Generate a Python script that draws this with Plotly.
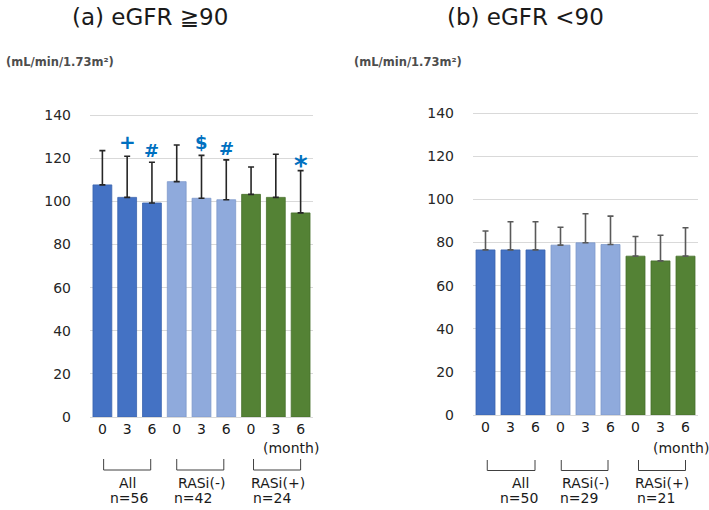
import plotly.graph_objects as go

# ---------------- data ----------------
months = ["0", "3", "6", "0", "3", "6", "0", "3", "6"]
groups = ["All", "RASi(-)", "RASi(+)"]
group_colors = ["#4472C4", "#8FAADC", "#548235"]
group_edges = ["#3A63AD", "#7E99CB", "#47702C"]

a_mean = [107.7, 101.9, 99.3, 109.2, 101.5, 100.8, 103.3, 101.9, 94.7]
a_sd = [15.9, 19.1, 18.9, 17.0, 19.9, 18.5, 12.7, 20.0, 19.6]
a_n = [56, 42, 24]
a_marks = ["", "+", "#", "", "$", "#", "", "", "*"]

b_mean = [76.6, 76.6, 76.6, 78.8, 79.9, 79.1, 73.7, 71.5, 73.7]
b_sd = [8.8, 13.1, 13.1, 8.3, 13.5, 13.2, 9.1, 11.9, 13.2]
b_n = [50, 29, 21]

titles = ["(a) eGFR ≧90", "(b) eGFR <90"]
unit = "(mL/min/1.73m²)"
y_ticks = [0, 20, 40, 60, 80, 100, 120, 140]

# ---------------- layout constants ----------------
W, H = 709, 510
FONT = "DejaVu Sans"
px_x = lambda p: p / W
px_y = lambda p: 1 - p / H
mark_size = {"+": 20, "#": 18, "$": 18, "*": 26}
mark_shift = {"+": 0, "#": -1, "$": 0, "*": -12}

panels = [
    dict(mean=a_mean, sd=a_sd, n=a_n, marks=a_marks, xa="x", ya="y",
         xdom=[px_x(90), px_x(313)], ydom=[px_y(417), px_y(104.5)],
         err_color="#262626",
         title_x=px_x(150), unit_x=px_x(4),
         lab_x=[1.02, 4.04, 7.09], n_x=[1.11, 3.65, 6.87], month_x=7.6,
         br=[(0.05, 1.95), (3.0, 4.9), (6.1, 8.0)],
         br_y=(px_y(459), px_y(470))),
    dict(mean=b_mean, sd=b_sd, n=b_n, marks=None, xa="x2", ya="y2",
         xdom=[px_x(473), px_x(698)], ydom=[px_y(415), px_y(102.5)],
         err_color="#595959",
         title_x=px_x(525), unit_x=px_x(352),
         lab_x=[1.4, 4.0, 7.05], n_x=[1.33, 3.73, 6.8], month_x=7.8,
         br=[(0.07, 1.98), (3.03, 4.9), (6.12, 8.0)],
         br_y=(px_y(460), px_y(470.5))),
]

fig = go.Figure()
annotations = []
shapes = []
txt = dict(family=FONT, size=14, color="#1a1a1a")

for p in panels:
    for g in range(3):
        idx = list(range(3 * g, 3 * g + 3))
        fig.add_trace(go.Bar(
            x=idx,
            y=[p["mean"][i] for i in idx],
            width=0.76,
            marker=dict(color=group_colors[g],
                        line=dict(color=group_edges[g], width=0.8)),
            error_y=dict(type="data", array=[p["sd"][i] for i in idx],
                         symmetric=False, arrayminus=[0, 0, 0],
                         color=p["err_color"], thickness=1.6, width=3),
            xaxis=p["xa"], yaxis=p["ya"], showlegend=False,
            hoverinfo="skip",
        ))
        x0, x1 = p["br"][g]
        yt, yb = p["br_y"]
        shapes.append(dict(type="path", xref=p["xa"], yref="paper",
                           path=f"M {x0},{yt} L {x0},{yb} L {x1},{yb} L {x1},{yt}",
                           line=dict(color="#404040", width=1)))
        annotations.append(dict(text=groups[g], x=p["lab_x"][g], xref=p["xa"],
                                y=px_y(482.5), yref="paper", yanchor="middle",
                                showarrow=False, font=txt))
        annotations.append(dict(text=f"n={p['n'][g]}", x=p["n_x"][g], xref=p["xa"],
                                y=px_y(498), yref="paper", yanchor="middle",
                                showarrow=False, font=txt))
    annotations.append(dict(text="(month)", x=p["month_x"], xref=p["xa"],
                            y=px_y(447.5), yref="paper", yanchor="middle",
                            showarrow=False, font=txt))
    if p["marks"]:
        for i, m in enumerate(p["marks"]):
            if m:
                annotations.append(dict(text=f"<b>{m}</b>", x=i, xref=p["xa"],
                                        y=p["mean"][i] + p["sd"][i], yref=p["ya"],
                                        yanchor="bottom", yshift=mark_shift[m],
                                        showarrow=False,
                                        font=dict(family=FONT, size=mark_size[m],
                                                  color="#0070C0")))

for k, p in enumerate(panels):
    annotations.append(dict(text=titles[k], x=p["title_x"], y=px_y(17), xref="paper",
                            yref="paper", showarrow=False, xanchor="center",
                            yanchor="middle",
                            font=dict(family=FONT, size=23, color="#1a1a1a")))
    annotations.append(dict(text=f"<b>{unit}</b>", x=p["unit_x"], y=px_y(61.5),
                            xref="paper", yref="paper", showarrow=False,
                            xanchor="left", yanchor="middle",
                            font=dict(family=FONT, size=11.5, color="#4d4d4d")))

axis_common_x = dict(tickmode="array", tickvals=list(range(9)), ticktext=months,
                     range=[-0.5, 8.5], showgrid=False, zeroline=False,
                     showline=False, ticks="", automargin=False,
                     ticklabelstandoff=2,
                     tickfont=dict(family=FONT, size=14, color="#1a1a1a"))
axis_common_y = dict(range=[0, 145], tickmode="array", tickvals=y_ticks,
                     showgrid=True, gridcolor="#D9D9D9", gridwidth=1,
                     zeroline=True, zerolinecolor="#D9D9D9", zerolinewidth=1,
                     showline=False, ticks="", ticklabelstandoff=18,
                     automargin=False,
                     tickfont=dict(family=FONT, size=14, color="#262626"))

fig.update_layout(
    width=W, height=H,
    margin=dict(l=0, r=0, t=0, b=0, autoexpand=False),
    paper_bgcolor="white", plot_bgcolor="white",
    barmode="overlay",
    xaxis=dict(domain=panels[0]["xdom"], anchor="y", **axis_common_x),
    yaxis=dict(domain=panels[0]["ydom"], anchor="x", **axis_common_y),
    xaxis2=dict(domain=panels[1]["xdom"], anchor="y2", **axis_common_x),
    yaxis2=dict(domain=panels[1]["ydom"], anchor="x2", **axis_common_y),
    annotations=annotations,
    shapes=shapes,
)

fig.write_html("out.html", config={"displayModeBar": False},
               post_script="document.body.style.margin='0';"
                           "document.body.style.overflow='hidden';")
